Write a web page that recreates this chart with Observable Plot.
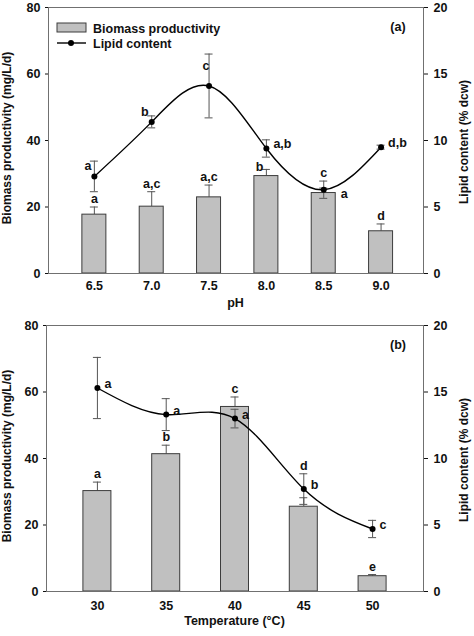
<!DOCTYPE html>
<html><head><meta charset="utf-8">
<script src="https://cdn.jsdelivr.net/npm/d3@7"></script>
<script src="https://cdn.jsdelivr.net/npm/@observablehq/plot@0.6"></script>
<style>
body{margin:0;background:#fff;}
#chart{width:474px;}
svg{display:block;}
</style></head><body><div id="chart"></div>
<script>
// ---- Panel (a): pH ----
const phLevels = [6.5, 7.0, 7.5, 8.0, 8.5, 9.0];
const phTickLabels = ["6.5", "7.0", "7.5", "8.0", "8.5", "9.0"];
const phBiomass = [17.7, 20.1, 22.9, 29.3, 24.2, 12.7];
const phBiomassErr = [2.3, 4.5, 3.7, 2.0, 1.5, 2.2];
const phLipid = [7.3, 11.4, 14.1, 9.4, 6.3, 9.5];
const phLipidErr = [1.15, 0.45, 2.4, 0.65, 0.65, 0.15];
const phBiomassLetters = ["a", "a,c", "a,c", "b", "a", "d"];
const phLipidLetters = ["a", "b", "c", "a,b", "c", "d,b"];
const phBiomassLetterPlace = ["above", "above", "above", "left", "right", "above"];
const phLipidLetterPlace = ["upleft", "upleft", "inside", "right", "above", "right"];

// ---- Panel (b): Temperature ----
const tempLevels = [30, 35, 40, 45, 50];
const tempTickLabels = ["30", "35", "40", "45", "50"];
const tempBiomass = [30.2, 41.3, 55.5, 25.5, 4.6];
const tempBiomassErr = [2.7, 2.7, 3.0, 2.7, 0.5];
const tempLipid = [15.3, 13.3, 13.0, 7.7, 4.7];
const tempLipidErr = [2.3, 1.2, 0.7, 1.15, 0.65];
const tempBiomassLetters = ["a", "b", "c", "d", "e"];
const tempLipidLetters = ["a", "a", "a", "b", "c"];
const tempBiomassLetterPlace = ["above", "above", "above", "top", "above"];
const tempLipidLetterPlace = ["right", "right", "right", "right", "right"];

const leftTicks = [0, 20, 40, 60, 80];
const rightTicks = [0, 5, 10, 15, 20];
const leftMax = 80, rightMax = 20;
const k = leftMax / rightMax; // right axis -> left axis units

const FONT = "'Liberation Sans', Arial, Helvetica, sans-serif";
const W = 474, H = 318;

function panel(cfg) {
  const {levels, tickLabels, bio, bioErr, lip, lipErr, bioLet, lipLet, bioPlace, lipPlace,
         domain, marginLeft, barHalfPx, tag, xTitle, legend, xPad} = cfg;
  const marginRight = 51, marginTop = 7, marginBottom = 45;
  const pxPerUnit = (W - marginLeft - marginRight) / (domain[1] - domain[0]);
  const half = barHalfPx / pxPerUnit;
  const cap = 4 / pxPerUnit;
  const rows = levels.map((x, i) => ({
    x, b: bio[i], be: bioErr[i], l: lip[i] * k, le: lipErr[i] * k,
    bl: bioLet[i], ll: lipLet[i], bp: bioPlace[i], lp: lipPlace[i]
  }));

  const bioPlaces = {
    above: {y: d => d.b + d.be, dx: 0, dy: -8, textAnchor: "middle"},
    left: {y: d => d.b, dx: -3, dy: -9, textAnchor: "end"},
    right: {y: d => d.b, dx: barHalfPx + 5, dy: 1, textAnchor: "start"},
    top: {y: d => Math.max(d.b + d.be, d.l + d.le), dx: 0, dy: -8, textAnchor: "middle"}
  };
  const lipPlaces = {
    upleft: {y: d => d.l, dx: -3, dy: -10, textAnchor: "end"},
    inside: {y: d => d.l + d.le, dx: -3, dy: 12, textAnchor: "middle"},
    right: {y: d => d.l, dx: 7, dy: -4, textAnchor: "start"},
    above: {y: d => d.l + d.le, dx: 0, dy: -8, textAnchor: "middle"}
  };
  const textMarks = [];
  for (const [name, p] of Object.entries(bioPlaces)) {
    const sub = rows.filter(d => d.bp === name);
    if (sub.length) textMarks.push(Plot.text(sub, {x: "x", y: p.y, text: "bl", dx: p.dx, dy: p.dy,
      textAnchor: p.textAnchor, fontWeight: "bold", fontSize: 12.5, fill: "#111"}));
  }
  for (const [name, p] of Object.entries(lipPlaces)) {
    const sub = rows.filter(d => d.lp === name);
    if (sub.length) textMarks.push(Plot.text(sub, {x: "x", y: p.y, text: "ll", dx: p.dx, dy: p.dy,
      textAnchor: p.textAnchor, fontWeight: "bold", fontSize: 12.5, fill: "#111"}));
  }

  const errC = "#555";
  const svg = Plot.plot({
    width: W, height: H, marginLeft, marginRight, marginTop, marginBottom,
    style: {fontFamily: FONT, fontSize: "12px", fontWeight: "bold", color: "#111", background: "white"},
    x: {type: "linear", domain},
    y: {domain: [0, leftMax]},
    marks: [
      Plot.ruleX(rows, {x: "x", y1: "b", y2: d => d.b + d.be, stroke: errC, strokeWidth: 1}),
      Plot.ruleY(rows, {y: d => d.b + d.be, x1: d => d.x - cap, x2: d => d.x + cap, stroke: errC, strokeWidth: 1}),
      Plot.rectY(rows, {x1: d => d.x - half, x2: d => d.x + half, y: "b", fill: "#c0c0c0", stroke: "#3c3c3c", strokeWidth: 1}),
      Plot.line(rows, {x: "x", y: "l", curve: "natural", stroke: "#000", strokeWidth: 1.4}),
      Plot.ruleX(rows, {x: "x", y1: d => d.l - d.le, y2: d => d.l + d.le, stroke: errC, strokeWidth: 1}),
      Plot.ruleY(rows, {y: d => d.l + d.le, x1: d => d.x - cap, x2: d => d.x + cap, stroke: errC, strokeWidth: 1}),
      Plot.ruleY(rows, {y: d => d.l - d.le, x1: d => d.x - cap, x2: d => d.x + cap, stroke: errC, strokeWidth: 1}),
      Plot.dot(rows, {x: "x", y: "l", r: 3, fill: "#000", stroke: "none"}),
      ...textMarks,
      Plot.frame({stroke: "#707070"}),
      Plot.axisY({anchor: "left", ticks: leftTicks, tickSize: 3, tickPadding: 5, label: null, fontWeight: "bold", fontSize: 12.5}),
      Plot.axisY({anchor: "right", ticks: rightTicks.map(v => v * k), tickFormat: d => String(d / k), tickSize: 4, tickPadding: 6, label: null, fontWeight: "bold", fontSize: 12.5}),
      Plot.axisX({anchor: "bottom", ticks: levels, tickFormat: d => tickLabels[levels.indexOf(d)], tickSize: 0, tickPadding: xPad, label: null, fontWeight: "bold", fontSize: 12.5})
    ]
  });

  const s = d3.select(svg);
  const g = s.append("g").attr("font-family", FONT).attr("font-weight", "bold").attr("fill", "#111")
    .attr("text-anchor", "start");
  const cy = marginTop + (H - marginTop - marginBottom) / 2;
  const cx = marginLeft + (W - marginLeft - marginRight) / 2;
  g.append("text").attr("transform", `translate(8,${cy - 2}) rotate(-90)`)
    .attr("text-anchor", "middle").attr("dominant-baseline", "middle").attr("font-size", 12)
    .text("Biomass productivity (mg/L/d)");
  g.append("text").attr("transform", `translate(465,${cy + 2}) rotate(-90)`)
    .attr("text-anchor", "middle").attr("dominant-baseline", "middle").attr("font-size", 12)
    .text("Lipid content (% dcw)");
  g.append("text").attr("x", cx).attr("y", 307).attr("text-anchor", "middle").attr("font-size", 12.5)
    .text(xTitle);
  g.append("text").attr("x", 398).attr("y", marginTop + 24).attr("text-anchor", "middle").attr("font-size", 12.5)
    .text(tag);
  if (legend) {
    g.append("rect").attr("x", 57).attr("y", 23).attr("width", 29).attr("height", 9)
      .attr("fill", "#c0c0c0").attr("stroke", "#3c3c3c");
    g.append("text").attr("x", 93).attr("y", 32.5).attr("text-anchor", "start").attr("font-size", 12.5)
      .text("Biomass productivity");
    g.append("line").attr("x1", 57).attr("x2", 86).attr("y1", 43).attr("y2", 43).attr("stroke", "#000").attr("stroke-width", 1.4);
    g.append("circle").attr("cx", 71).attr("cy", 43).attr("r", 3).attr("fill", "#000");
    g.append("text").attr("x", 93).attr("y", 47.5).attr("text-anchor", "start").attr("font-size", 12.5)
      .text("Lipid content");
  }
  return svg;
}

const root = document.getElementById("chart");
root.appendChild(panel({
  levels: phLevels, tickLabels: phTickLabels, bio: phBiomass, bioErr: phBiomassErr,
  lip: phLipid, lipErr: phLipidErr, bioLet: phBiomassLetters, lipLet: phLipidLetters,
  bioPlace: phBiomassLetterPlace, lipPlace: phLipidLetterPlace,
  domain: [6.1, 9.37], marginLeft: 48, barHalfPx: 12, tag: "(a)", xTitle: "pH", legend: true, xPad: 8
}));
root.appendChild(panel({
  levels: tempLevels, tickLabels: tempTickLabels, bio: tempBiomass, bioErr: tempBiomassErr,
  lip: tempLipid, lipErr: tempLipidErr, bioLet: tempBiomassLetters, lipLet: tempLipidLetters,
  bioPlace: tempBiomassLetterPlace, lipPlace: tempLipidLetterPlace,
  domain: [26.3, 53.7], marginLeft: 46, barHalfPx: 14, tag: "(b)", xTitle: "Temperature (°C)", legend: false, xPad: 10
}));
</script>
</body></html>
